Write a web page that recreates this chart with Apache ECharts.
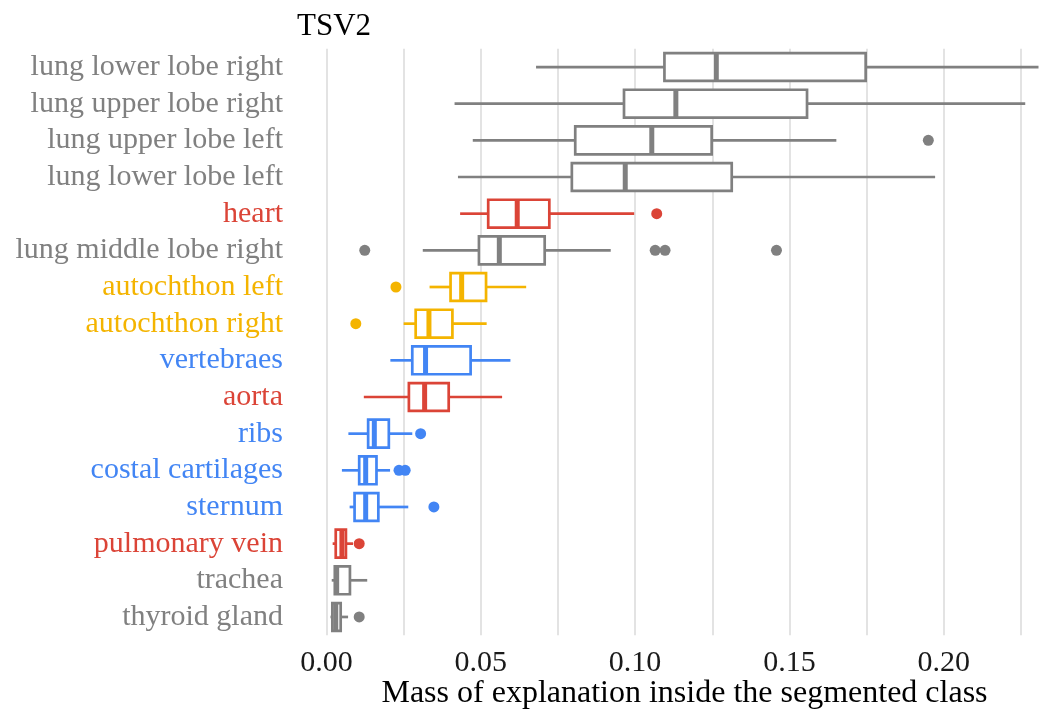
<!DOCTYPE html>
<html>
<head>
<meta charset="utf-8">
<script src="https://cdn.jsdelivr.net/npm/echarts@6/dist/echarts.min.js"></script>
<style>
  html, body { margin: 0; padding: 0; background: #fff; }
  #chart { width: 1056px; height: 713px; }
</style>
</head>
<body>
<div id="chart"></div>
<script>
// classes, top to bottom
const classes = [
  "lung lower lobe right", "lung upper lobe right", "lung upper lobe left",
  "lung lower lobe left", "heart", "lung middle lobe right", "autochthon left",
  "autochthon right", "vertebraes", "aorta", "ribs", "costal cartilages",
  "sternum", "pulmonary vein", "trachea", "thyroid gland"
];
// organ group of each class (decides the colour)
const groups = [
  "lung", "lung", "lung", "lung", "vessel", "lung", "muscle",
  "muscle", "bone", "vessel", "bone", "bone",
  "bone", "vessel", "lung", "lung"
];
// whisker low, Q1, median, Q3, whisker high
const lows    = [0.0679, 0.0415, 0.0474, 0.0426, 0.0433, 0.0312, 0.0334, 0.0250, 0.0207, 0.0121, 0.0071, 0.0050, 0.0075, 0.0020, 0.0017, 0.0013];
const q1s     = [0.1095, 0.0964, 0.0806, 0.0795, 0.0524, 0.0494, 0.0402, 0.0289, 0.0278, 0.0267, 0.0135, 0.0106, 0.0091, 0.0030, 0.0027, 0.0019];
const medians = [0.1263, 0.1132, 0.1054, 0.0968, 0.0618, 0.0560, 0.0438, 0.0332, 0.0321, 0.0318, 0.0155, 0.0127, 0.0127, 0.0050, 0.0033, 0.0030];
const q3s     = [0.1747, 0.1557, 0.1248, 0.1313, 0.0722, 0.0707, 0.0517, 0.0408, 0.0467, 0.0396, 0.0202, 0.0162, 0.0168, 0.0063, 0.0076, 0.0046];
const highs   = [0.2307, 0.2264, 0.1652, 0.1972, 0.0997, 0.0921, 0.0647, 0.0519, 0.0596, 0.0569, 0.0278, 0.0206, 0.0265, 0.0086, 0.0132, 0.0070];
// outliers: class index, value
const outlierClass = [2, 4, 5, 5, 5, 5, 6, 7, 10, 11, 11, 12, 13, 15];
const outlierValue = [0.195, 0.107, 0.0124, 0.1065, 0.1097, 0.1458, 0.0225, 0.0095, 0.0305, 0.0235, 0.0255, 0.0348, 0.0106, 0.0106];
// x axis
const gridTicks = [0, 0.025, 0.05, 0.075, 0.1, 0.125, 0.15, 0.175, 0.2, 0.225];
const labelTicks = [0, 0.05, 0.1, 0.15, 0.2];

const palette = { lung: "#808080", vessel: "#db4437", muscle: "#f4b400", bone: "#4285f4" };
const font = "'Liberation Serif', 'Times New Roman', serif";

const boxData = classes.map((c, i) => [i, lows[i], q1s[i], medians[i], q3s[i], highs[i]]);
const outlierData = outlierClass.map((c, i) => ({
  value: [outlierValue[i], c],
  itemStyle: { color: palette[groups[c]] }
}));

function renderBox(params, api) {
  const idx = api.value(0);
  const lo = api.coord([api.value(1), idx]);
  const q1 = api.coord([api.value(2), idx]);
  const md = api.coord([api.value(3), idx]);
  const q3 = api.coord([api.value(4), idx]);
  const hi = api.coord([api.value(5), idx]);
  const h = api.size([0, 1])[1] * 0.76;
  const y = lo[1];
  const color = palette[groups[idx]];
  return {
    type: "group",
    children: [
      { type: "line", shape: { x1: lo[0], y1: y, x2: q1[0], y2: y }, style: { stroke: color, lineWidth: 2.7 } },
      { type: "line", shape: { x1: q3[0], y1: y, x2: hi[0], y2: y }, style: { stroke: color, lineWidth: 2.7 } },
      { type: "rect", shape: { x: q1[0], y: y - h / 2, width: q3[0] - q1[0], height: h }, style: { fill: "#fff", stroke: color, lineWidth: 2.7 } },
      { type: "line", shape: { x1: md[0], y1: y - h / 2, x2: md[0], y2: y + h / 2 }, style: { stroke: color, lineWidth: 5 } }
    ]
  };
}

const chart = echarts.init(document.getElementById("chart"));
chart.setOption({
  animation: false,
  backgroundColor: "#fff",
  title: {
    text: "TSV2",
    left: 292,
    top: 6,
    textStyle: { fontFamily: font, fontSize: 31, fontWeight: "normal", color: "#000" }
  },
  grid: { left: 295, width: 779, top: 48.7, bottom: 77.7, outerBoundsMode: "none" },
  xAxis: {
    type: "value",
    min: -0.0102,
    max: 0.2422,
    name: "Mass of explanation inside the segmented class",
    nameLocation: "middle",
    nameGap: 42,
    nameMoveOverlap: false,
    nameTextStyle: { fontFamily: font, fontSize: 32, color: "#000" },
    axisLine: { show: false },
    axisTick: { show: false, customValues: gridTicks },
    axisLabel: {
      customValues: labelTicks,
      formatter: v => v.toFixed(2),
      margin: 13,
      fontFamily: font,
      fontSize: 30,
      color: "#1a1a1a"
    },
    splitLine: { show: true, lineStyle: { color: "#e3e3e3", width: 2 } }
  },
  yAxis: {
    type: "category",
    data: classes,
    inverse: true,
    axisLine: { show: false },
    axisTick: { show: false },
    splitLine: { show: false },
    axisLabel: {
      interval: 0,
      margin: 12,
      fontFamily: font,
      fontSize: 30,
      color: v => palette[groups[classes.indexOf(v)]]
    }
  },
  series: [
    {
      type: "scatter",
      data: outlierData,
      symbolSize: 11,
      itemStyle: { opacity: 1 },
      z: 2
    },
    {
      type: "custom",
      renderItem: renderBox,
      data: boxData,
      encode: { x: [1, 2, 3, 4, 5], y: 0 },
      z: 3
    }
  ]
});
</script>
</body>
</html>
